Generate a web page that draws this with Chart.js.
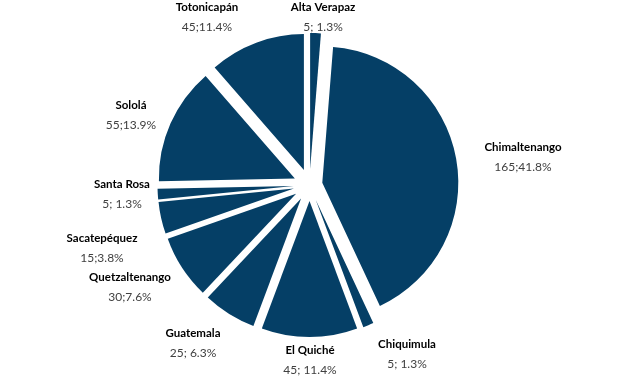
<!DOCTYPE html>
<html>
<head>
<meta charset="utf-8">
<script src="https://cdn.jsdelivr.net/npm/chart.js@4/dist/chart.umd.min.js"></script>
<style>
  html, body { margin: 0; padding: 0; background: #ffffff; }
  #wrap { width: 619px; height: 376px; position: relative; }
</style>
</head>
<body>
<div id="wrap"><canvas id="c"></canvas></div>
<script>
// ---- data ----
const categories = ['Alta Verapaz', 'Chimaltenango', 'Chiquimula', 'El Quiché', 'Guatemala',
                    'Quetzaltenango', 'Sacatepéquez', 'Santa Rosa', 'Sololá', 'Totonicapán'];
const counts = [5, 165, 5, 45, 25, 30, 15, 5, 55, 45];
const valueLabels = ['5; 1.3%', '165;41.8%', '5; 1.3%', '45; 11.4%', '25; 6.3%',
                     '30;7.6%', '15;3.8%', '5; 1.3%', '55;13.9%', '45;11.4%'];

// ---- layout (label anchor centres, px) ----
const labelPos = [
  [323, 7], [523, 147], [407, 344], [310, 350], [193, 333],
  [130, 277], [102, 238], [122, 184], [131, 105], [207, 7]
];
const explodeBy = [16, 13, 16, 16, 16, 16, 16, 16, 16, 16];
const sliceColor = '#053F66';

const explodePlugin = {
  id: 'explode',
  afterDatasetsUpdate(chart) {
    const meta = chart.getDatasetMeta(0);
    meta.data.forEach((arc, i) => {
      const mid = (arc.startAngle + arc.endAngle) / 2;
      arc.x += Math.cos(mid) * explodeBy[i];
      arc.y += Math.sin(mid) * explodeBy[i];
    });
  }
};

const labelPlugin = {
  id: 'outLabels',
  afterDatasetsDraw(chart) {
    const ctx = chart.ctx;
    ctx.save();
    ctx.textAlign = 'center';
    ctx.textBaseline = 'middle';
    categories.forEach((name, i) => {
      const [x, y] = labelPos[i];
      ctx.font = 'bold 11.5px Lato, "DejaVu Sans", sans-serif';
      ctx.fillStyle = '#000000';
      ctx.fillText(name, x, y);
      ctx.font = '12px Lato, "DejaVu Sans", sans-serif';
      ctx.fillStyle = '#404040';
      ctx.fillText(valueLabels[i], x, y + 20);
    });
    ctx.restore();
  }
};

new Chart(document.getElementById('c'), {
  type: 'pie',
  data: {
    labels: categories,
    datasets: [{
      data: counts,
      backgroundColor: sliceColor,
      borderWidth: 0
    }]
  },
  options: {
    responsive: true,
    maintainAspectRatio: false,
    animation: false,
    radius: 136,
    layout: { padding: { left: 0, right: 0, top: 0, bottom: 6 } },
    plugins: { legend: { display: false }, tooltip: { enabled: false } },
    events: []
  },
  plugins: [explodePlugin, labelPlugin]
});
</script>
</body>
</html>
